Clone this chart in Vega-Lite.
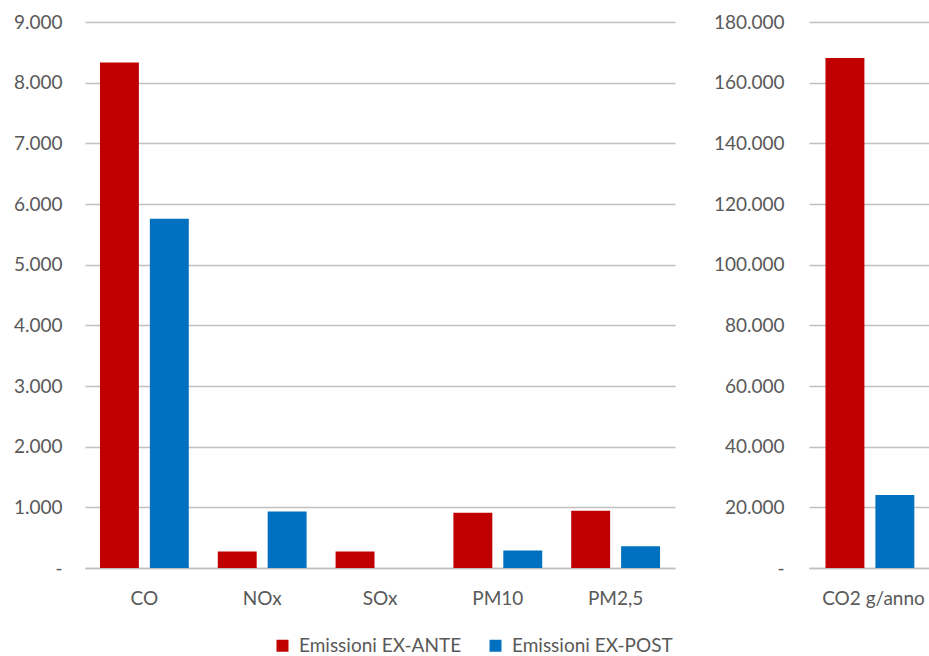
{
  "$schema": "https://vega.github.io/schema/vega-lite/v6.json",
  "background": "white",
  "padding": {"left": 13, "top": 13, "right": 0, "bottom": 0},
  "spacing": 38,
  "config": {
    "font": "Lato",
    "view": {"stroke": null},
    "axis": {
      "labelFont": "Lato",
      "labelFontSize": 19,
      "labelColor": "#595959",
      "title": null,
      "ticks": false,
      "gridColor": "#c0c0c0",
      "gridWidth": 1.3,
      "domainColor": "#c0c0c0",
      "domainWidth": 1.5
    },
    "axisY": {"domain": false},
    "axisX": {"grid": false, "labelAngle": 0, "labelPadding": 21},
    "bar": {"stroke": null}
  },
  "data": {
    "values": [
      {"pannello": "sx", "inquinante": "CO", "tipo": "Emissioni EX-ANTE", "valore": 8333},
      {"pannello": "sx", "inquinante": "CO", "tipo": "Emissioni EX-POST", "valore": 5755},
      {"pannello": "sx", "inquinante": "NOx", "tipo": "Emissioni EX-ANTE", "valore": 270},
      {"pannello": "sx", "inquinante": "NOx", "tipo": "Emissioni EX-POST", "valore": 930},
      {"pannello": "sx", "inquinante": "SOx", "tipo": "Emissioni EX-ANTE", "valore": 270},
      {"pannello": "sx", "inquinante": "SOx", "tipo": "Emissioni EX-POST", "valore": 0},
      {"pannello": "sx", "inquinante": "PM10", "tipo": "Emissioni EX-ANTE", "valore": 910},
      {"pannello": "sx", "inquinante": "PM10", "tipo": "Emissioni EX-POST", "valore": 290},
      {"pannello": "sx", "inquinante": "PM2,5", "tipo": "Emissioni EX-ANTE", "valore": 945},
      {"pannello": "sx", "inquinante": "PM2,5", "tipo": "Emissioni EX-POST", "valore": 360},
      {"pannello": "dx", "inquinante": "CO2 g/anno", "tipo": "Emissioni EX-ANTE", "valore": 168100},
      {"pannello": "dx", "inquinante": "CO2 g/anno", "tipo": "Emissioni EX-POST", "valore": 24100}
    ]
  },
  "hconcat": [
    {
      "width": 590,
      "height": 546,
      "transform": [{"filter": "datum.pannello === 'sx'"}],
      "mark": {"type": "bar"},
      "encoding": {
        "x": {
          "field": "inquinante",
          "type": "nominal",
          "sort": ["CO", "NOx", "SOx", "PM10", "PM2,5"],
          "scale": {"paddingInner": 0.246, "paddingOuter": 0.127}
        },
        "xOffset": {
          "field": "tipo",
          "type": "nominal",
          "sort": ["Emissioni EX-ANTE", "Emissioni EX-POST"],
          "scale": {"paddingInner": 0.22, "paddingOuter": 0}
        },
        "y": {
          "field": "valore",
          "type": "quantitative",
          "scale": {"domain": [0, 9000], "nice": false},
          "axis": {
            "values": [0, 1000, 2000, 3000, 4000, 5000, 6000, 7000, 8000, 9000],
            "labelPadding": 23,
            "labelExpr": "datum.value === 0 ? '-\u00a0\u00a0\u00a0' : replace(format(datum.value, ',.0f'), ',', '.')"
          }
        },
        "color": {
          "field": "tipo",
          "type": "nominal",
          "scale": {
            "domain": ["Emissioni EX-ANTE", "Emissioni EX-POST"],
            "range": ["#C00000", "#0070C0"]
          },
          "legend": {
            "orient": "none",
            "legendX": 188,
            "legendY": 614,
            "direction": "horizontal",
            "title": null,
            "padding": 0,
            "symbolType": "square",
            "symbolSize": 144,
            "symbolStrokeWidth": 0,
            "symbolOpacity": 1,
            "labelFont": "Lato",
            "labelFontSize": 19,
            "labelColor": "#595959",
            "labelLimit": 300,
            "labelOffset": 7,
            "columnPadding": 24
          }
        }
      }
    },
    {
      "width": 121,
      "height": 546,
      "transform": [{"filter": "datum.pannello === 'dx'"}],
      "mark": {"type": "bar"},
      "encoding": {
        "x": {
          "field": "inquinante",
          "type": "nominal",
          "scale": {"paddingInner": 0, "paddingOuter": 0.13, "align": 0.66}
        },
        "xOffset": {
          "field": "tipo",
          "type": "nominal",
          "sort": ["Emissioni EX-ANTE", "Emissioni EX-POST"],
          "scale": {"paddingInner": 0.2, "paddingOuter": 0}
        },
        "y": {
          "field": "valore",
          "type": "quantitative",
          "scale": {"domain": [0, 180000], "nice": false},
          "axis": {
            "values": [0, 20000, 40000, 60000, 80000, 100000, 120000, 140000, 160000, 180000],
            "labelPadding": 25,
            "labelExpr": "datum.value === 0 ? '-\u00a0\u00a0\u00a0' : replace(format(datum.value, ',.0f'), ',', '.')"
          }
        },
        "color": {
          "field": "tipo",
          "type": "nominal"
        }
      }
    }
  ]
}
